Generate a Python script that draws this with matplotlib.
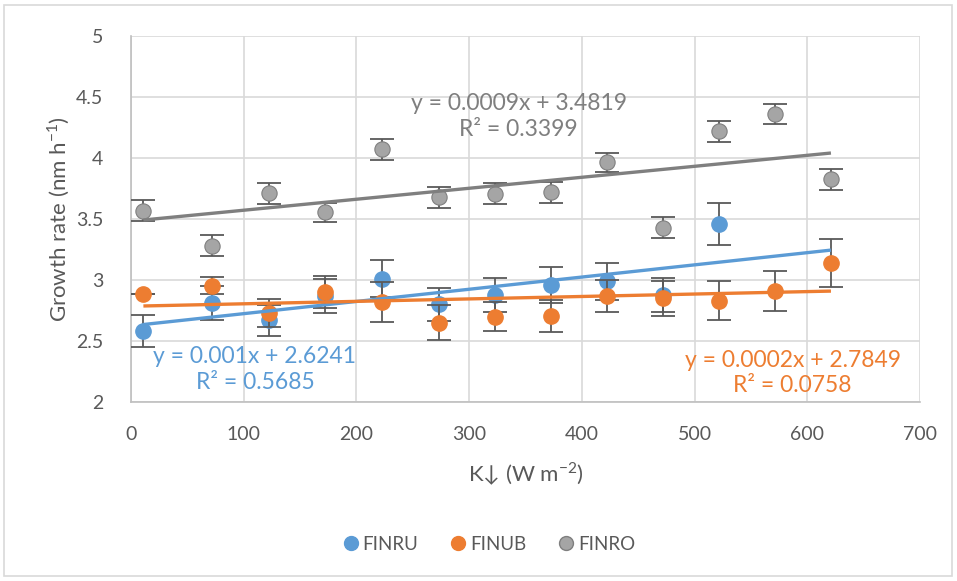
import matplotlib

matplotlib.use("Agg")
import matplotlib.pyplot as plt
from matplotlib.lines import Line2D
from matplotlib.patches import Rectangle

plt.rcParams["font.family"] = ["Lato", "DejaVu Sans"]

# Shortwave irradiance bins (W m-2)
k_down = [11, 72, 122, 172, 223, 273, 323, 373, 422, 472, 522, 571, 621]

# Mean growth rates (nm h-1) and their error bars
finru = [2.58, 2.81, 2.67, 2.87, 3.01, 2.80, 2.877, 2.96, 2.99, 2.877, 3.46]
finru_err = [0.13, 0.14, 0.125, 0.14, 0.15, 0.137, 0.14, 0.15, 0.15, 0.137, 0.17]

finub = [2.885, 2.953, 2.727, 2.904, 2.82, 2.65, 2.70, 2.707, 2.87, 2.85, 2.83, 2.91, 3.14]
finub_err = [0.0, 0.07, 0.115, 0.13, 0.164, 0.145, 0.12, 0.13, 0.13, 0.145, 0.16, 0.16, 0.2]

finro = [3.568, 3.28, 3.71, 3.555, 4.07, 3.68, 3.705, 3.72, 3.965, 3.43, 4.22, 4.36, 3.825]
finro_err = [0.086, 0.085, 0.086, 0.08, 0.086, 0.086, 0.086, 0.085, 0.08, 0.086, 0.086, 0.083, 0.085]

# Linear fits: (slope, intercept, R^2)
fit_ru = (0.001, 2.6241, 0.5685)
fit_ub = (0.0002, 2.7849, 0.0758)
fit_ro = (0.0009, 3.4819, 0.3399)

series_names = ["FINRU", "FINUB", "FINRO"]

BLUE = "#5b9bd5"
ORANGE = "#ed7d31"
GREY = "#a5a5a5"
GREY_DARK = "#7f7f7f"
ERR = "#595959"
TEXT = "#595959"
GRID = "#d9d9d9"

fig = plt.figure(figsize=(9.57, 5.81), dpi=100)
ax = fig.add_axes([131 / 957, 1 - 402 / 581, 789 / 957, 366 / 581])

# Chart border
fig.patches.append(Rectangle((4 / 957, 5 / 581), 948 / 957, 571 / 581,
                             transform=fig.transFigure, fill=False,
                             edgecolor=GRID, linewidth=1.2))

err_kw = dict(fmt="none", ecolor=ERR, elinewidth=1.3, capsize=8.5,
              capthick=1.3)
ms = 11

ax.errorbar(k_down[:len(finru)], finru, yerr=finru_err, zorder=3, **err_kw)
ax.plot(k_down[:len(finru)], finru, "o", ms=ms, color=BLUE,
        markeredgecolor=BLUE, zorder=4)

ax.errorbar(k_down, finub, yerr=finub_err, zorder=5, **err_kw)
ax.plot(k_down, finub, "o", ms=ms, color=ORANGE,
        markeredgecolor=ORANGE, zorder=6)

ax.errorbar(k_down, finro, yerr=finro_err, zorder=7, **err_kw)
ax.plot(k_down, finro, "o", ms=ms, color=GREY,
        markeredgecolor=GREY_DARK, markeredgewidth=0.8, zorder=8)

# Trendlines across the data range
x0, x1 = k_down[0], k_down[-1]
for (m, b, _), col in [(fit_ru, BLUE), (fit_ub, ORANGE), (fit_ro, GREY_DARK)]:
    ax.plot([x0, x1], [m * x0 + b, m * x1 + b], color=col, lw=2.4,
            solid_capstyle="butt", zorder=9)


def fit_label(fit):
    m, b, r2 = fit
    return f"y = {m:g}x + {b:.4f}\nR² = {r2:.4f}"


lbl_kw = dict(fontsize=16.5, ha="center", va="center", linespacing=1.25,
              zorder=10)
ax.text(344, 4.34, fit_label(fit_ro), color=GREY_DARK, **lbl_kw)
ax.text(110, 2.266, fit_label(fit_ru), color=BLUE, **lbl_kw)
ax.text(587, 2.24, fit_label(fit_ub), color=ORANGE, **lbl_kw)

ax.set_xlim(0, 700)
ax.set_ylim(2, 5)
ax.set_xticks(range(0, 701, 100))
ax.set_yticks([2, 2.5, 3, 3.5, 4, 4.5, 5])
ax.set_yticklabels(["2", "2.5", "3", "3.5", "4", "4.5", "5"])
ax.grid(True, color=GRID, linewidth=1.2)
ax.set_axisbelow(True)
for side in ["top", "right"]:
    ax.spines[side].set_visible(False)
for side in ["left", "bottom"]:
    ax.spines[side].set_color("#bfbfbf")
    ax.spines[side].set_linewidth(1.2)
ax.tick_params(length=0, labelsize=14, colors=TEXT, pad=20)
ax.tick_params(axis="x", pad=17)

ax.set_ylabel(r"Growth rate (nm h$^{\mathregular{-1}}$)", fontsize=16,
              color=TEXT, labelpad=3)
ax.set_xlabel(r"K↓ (W m$^{\mathregular{-2}}$)", fontsize=16, color=TEXT,
              labelpad=13)

handles = [Line2D([], [], ls="none", marker="o", ms=10, color=c,
                  markeredgecolor=e)
           for c, e in [(BLUE, BLUE), (ORANGE, ORANGE), (GREY, GREY_DARK)]]
fig.legend(handles, series_names, loc="center", ncol=3,
           bbox_to_anchor=(0.51, 1 - 544 / 581), frameon=False,
           fontsize=13.5, labelcolor=TEXT, handletextpad=0.15,
           columnspacing=1.6, handlelength=1.0)

fig.savefig("out.png", dpi=100, facecolor="white")
plt.close(fig)
